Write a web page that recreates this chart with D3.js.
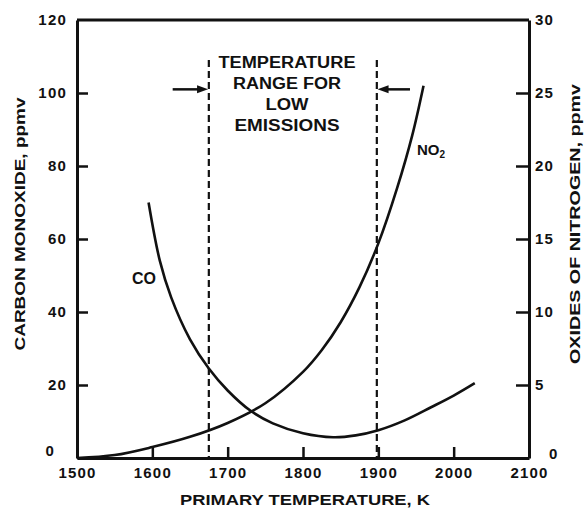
<!DOCTYPE html>
<html><head><meta charset="utf-8">
<script src="https://cdn.jsdelivr.net/npm/d3@7"></script>
<style>
body{margin:0;background:#fff}
text{font-family:"Liberation Sans",Arial,sans-serif;font-weight:bold;fill:#111}
</style>
</head><body>
<svg id="c" width="587" height="508"></svg>
<script>
const xTicks = [1500, 1600, 1700, 1800, 1900, 2000, 2100];
const coTicks = [0, 20, 40, 60, 80, 100, 120];
const noxTicks = [0, 5, 10, 15, 20, 25, 30];
const coTemp = [1595, 1610, 1625, 1650, 1675, 1700, 1730, 1760, 1800, 1840, 1870, 1900, 1935, 1970, 2000, 2028];
const coPpm  = [70, 54, 44, 32.5, 24.5, 18.5, 13, 9.5, 6.8, 5.7, 6.2, 7.6, 10.3, 13.9, 17.1, 20.5];
const noxTemp = [1500, 1550, 1600, 1650, 1700, 1750, 1800, 1825, 1850, 1875, 1900, 1925, 1945, 1960];
const noxPpm  = [0, 0.2, 0.75, 1.45, 2.4, 3.75, 5.9, 7.4, 9.3, 11.7, 14.7, 18.5, 22.1, 25.5];
const bandTemps = [1675, 1898];
const bandLabel = ["TEMPERATURE", "RANGE FOR", "LOW", "EMISSIONS"];

const svg = d3.select("#c");
const L = 77, R = 529, T = 20, B = 458;
const x = d3.scaleLinear().domain([1500, 2100]).range([L, R]);
const yCO = d3.scaleLinear().domain([0, 120]).range([B, T]);
const yNOx = d3.scaleLinear().domain([0, 30]).range([B, T]);

// frame top
svg.append("line").attr("x1", L).attr("x2", R).attr("y1", T).attr("y2", T)
  .attr("stroke", "#111").attr("stroke-width", 3);

function styleAxis(g) {
  g.select(".domain").attr("stroke", "#111").attr("stroke-width", 3);
  g.selectAll(".tick line").attr("stroke", "#111").attr("stroke-width", 2.5);
  g.selectAll(".tick text").style("font-size", "15px").style("letter-spacing", "1.2px")
    .style("font-family", '"Liberation Sans",Arial,sans-serif').style("font-weight", "bold").attr("fill", "#111");
}

const gx = svg.append("g").attr("transform", `translate(0,${B})`)
  .call(d3.axisBottom(x).tickValues(xTicks).tickFormat(d3.format("d")).tickSizeInner(-11).tickSizeOuter(0).tickPadding(9));
styleAxis(gx);
gx.selectAll(".tick text").attr("y", 9);

const gl = svg.append("g").attr("transform", `translate(${L},0)`)
  .call(d3.axisLeft(yCO).tickValues(coTicks).tickSizeInner(-11).tickSizeOuter(0).tickPadding(10));
styleAxis(gl);
gl.selectAll(".tick").filter(d => d === 0).select("text").attr("x", -22).attr("dy", "-0.2em");
gl.selectAll(".tick").filter(d => d === 0 || d === 120).select("line").remove();

const gr = svg.append("g").attr("transform", `translate(${R},0)`)
  .call(d3.axisRight(yNOx).tickValues(noxTicks).tickSizeInner(-13).tickSizeOuter(0).tickPadding(6));
styleAxis(gr);
gr.selectAll(".tick").filter(d => d === 0).select("text").attr("x", 20).attr("dy", "0em");
gr.selectAll(".tick").filter(d => d === 0 || d === 30).select("line").remove();

// axis titles
svg.append("text").attr("x", 305).attr("y", 505).attr("text-anchor", "middle")
  .attr("textLength", 250).attr("lengthAdjust", "spacingAndGlyphs")
  .style("font-size", "14px").text("PRIMARY TEMPERATURE, K");
svg.append("text").attr("transform", "translate(25,224) rotate(-90)").attr("text-anchor", "middle")
  .attr("textLength", 253).attr("lengthAdjust", "spacingAndGlyphs")
  .style("font-size", "14px").text("CARBON MONOXIDE, ppmv");
svg.append("text").attr("transform", "translate(580,224) rotate(-90)").attr("text-anchor", "middle")
  .attr("textLength", 280).attr("lengthAdjust", "spacingAndGlyphs")
  .style("font-size", "14px").text("OXIDES OF NITROGEN, ppmv");

// dashed band lines
bandTemps.forEach(t => {
  svg.append("line").attr("x1", x(t)).attr("x2", x(t)).attr("y1", 60).attr("y2", B)
    .attr("stroke", "#111").attr("stroke-width", 2.2).attr("stroke-dasharray", "7,4");
});

// arrows
const arrowY = yCO(101);
function arrow(fromT, toT) {
  const x0 = x(fromT), x1 = x(toT);
  const dir = Math.sign(x1 - x0);
  svg.append("line").attr("x1", x0).attr("x2", x1 - dir * 8).attr("y1", arrowY).attr("y2", arrowY)
    .attr("stroke", "#111").attr("stroke-width", 2.5);
  svg.append("path").attr("d", `M${x1},${arrowY} L${x1 - dir * 11},${arrowY - 4} L${x1 - dir * 11},${arrowY + 4} Z`)
    .attr("fill", "#111");
}
arrow(1627, bandTemps[0] - 1);
arrow(1942, bandTemps[1] + 1);

// band label
const widths = [137, 108, 43, 105];
bandLabel.forEach((s, i) => {
  svg.append("text").attr("x", 287).attr("y", 68 + i * 21).attr("text-anchor", "middle")
    .attr("textLength", widths[i]).attr("lengthAdjust", "spacingAndGlyphs")
    .style("font-size", "16px").text(s);
});

// curves
const coData = coTemp.map((t, i) => [t, coPpm[i]]);
const noxData = noxTemp.map((t, i) => [t, noxPpm[i]]);
svg.append("path").datum(coData)
  .attr("d", d3.line().x(d => x(d[0])).y(d => yCO(d[1])).curve(d3.curveCatmullRom.alpha(0.5)))
  .attr("fill", "none").attr("stroke", "#111").attr("stroke-width", 2.6);
svg.append("path").datum(noxData)
  .attr("d", d3.line().x(d => x(d[0])).y(d => yNOx(d[1])).curve(d3.curveCatmullRom.alpha(0.5)))
  .attr("fill", "none").attr("stroke", "#111").attr("stroke-width", 2.6);

// curve labels
svg.append("text").attr("x", 144).attr("y", 284).attr("text-anchor", "middle")
  .style("font-size", "16px").text("CO");
const no = svg.append("text").attr("x", 417).attr("y", 155).style("font-size", "15px");
no.append("tspan").text("NO");
no.append("tspan").attr("dy", 3).style("font-size", "10px").text("2");
</script>
</body></html>
